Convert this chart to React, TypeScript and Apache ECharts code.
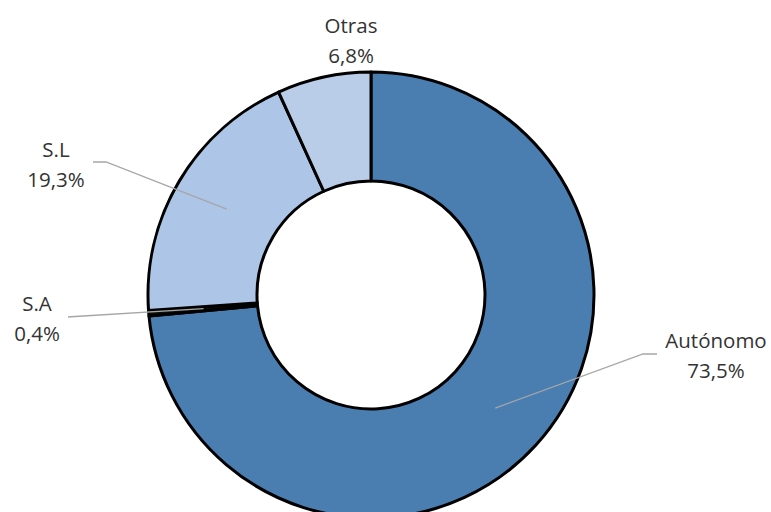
import React, { useEffect, useRef } from 'react';
import * as echarts from 'echarts';

// ---- data ----
const categories = ['Autónomo', 'S.A', 'S.L', 'Otras'];
const shares = [73.5, 0.4, 19.3, 6.8];

// ---- styles / layout ----
const sliceColors = ['#4a7eb1', '#0d0d0d', '#adc5e6', '#b9cde9'];
const labelAnchors: number[][] = [[716, 355], [37, 318], [56, 164], [351, 40]];
const leaderBends: (number[][] | null)[] = [
  [[643, 354], [657, 354]],
  [[75, 316.5], [68, 317]],
  [[106, 162], [93, 162]],
  null,
];
const CENTER = [371, 295];

const fmt = (v: number) => v.toFixed(1).replace('.', ',') + '%';

export default function App() {
  const ref = useRef<HTMLDivElement>(null);
  useEffect(() => {
    if (!ref.current) return;
    const chart = echarts.init(ref.current, null, { renderer: 'svg' });
    const ringData = categories.map((name, i) => ({
      name,
      value: shares[i],
      itemStyle: { color: sliceColors[i] },
    }));
    const labelData = categories.map((name, i) => ({
      name,
      value: shares[i],
      labelLine: { show: leaderBends[i] !== null },
    }));
    chart.setOption({
      animation: false,
      backgroundColor: '#ffffff',
      series: [
        {
          type: 'pie',
          center: CENTER,
          radius: [114, 223],
          startAngle: 90,
          clockwise: true,
          avoidLabelOverlap: false,
          silent: true,
          itemStyle: { borderColor: '#000000', borderWidth: 3 },
          label: { show: false },
          labelLine: { show: false },
          data: ringData,
          z: 1,
        },
        {
          type: 'pie',
          center: CENTER,
          radius: [0, 168],
          startAngle: 90,
          clockwise: true,
          avoidLabelOverlap: false,
          silent: true,
          itemStyle: { color: 'rgba(0,0,0,0)', borderWidth: 0 },
          label: {
            show: true,
            position: 'outside',
            formatter: (p: any) => `${p.name}\n${fmt(p.value)}`,
            fontFamily: '"Open Sans", "Noto Sans", sans-serif',
            fontSize: 20.5,
            lineHeight: 30,
            color: '#333333',
            align: 'center',
          },
          labelLine: {
            show: true,
            length: 20,
            length2: 10,
            lineStyle: { color: '#a6a6a6', width: 1.3 },
          },
          labelLayout: (params: any) => {
            const i = params.dataIndex;
            const [x, y] = labelAnchors[i];
            const out: any = { x, y, align: 'center', verticalAlign: 'middle' };
            const bends = leaderBends[i];
            if (bends && params.labelLinePoints) {
              out.labelLinePoints = [params.labelLinePoints[0], bends[0], bends[1]];
            }
            return out;
          },
          data: labelData,
          z: 2,
        },
      ],
    });
    return () => chart.dispose();
  }, []);
  return (
    <div
      ref={ref}
      style={{ position: 'fixed', left: 0, top: 0, width: 771, height: 512 }}
    />
  );
}
